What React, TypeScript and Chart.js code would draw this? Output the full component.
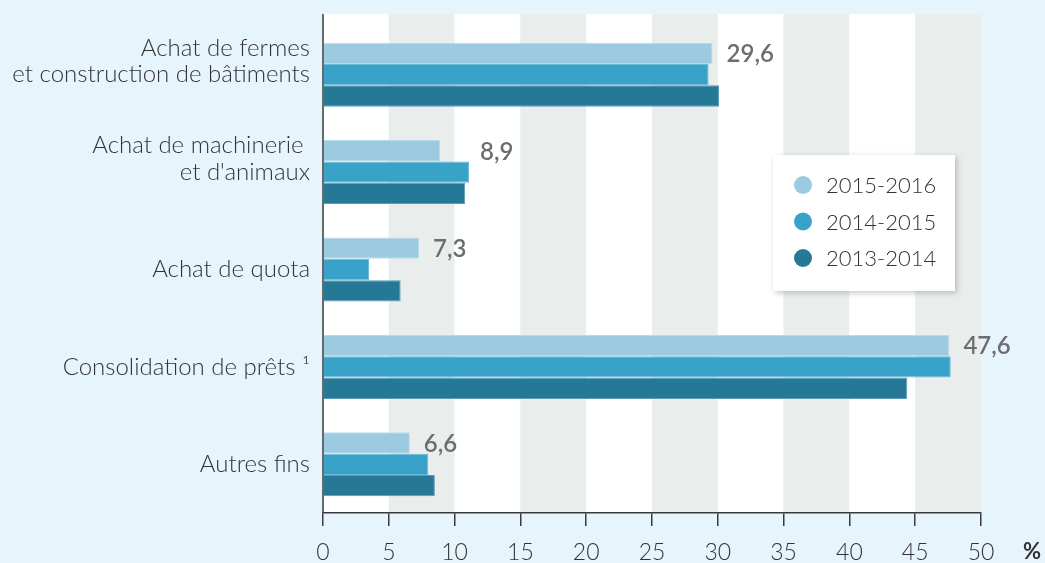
import React, { useEffect, useRef } from "react";
import { Chart, registerables } from "chart.js";

Chart.register(...registerables);

const categories: (string | string[])[] = [
  ["Achat de fermes", "et construction de bâtiments", ""],
  ["Achat de machinerie ", "et d'animaux", ""],
  "Achat de quota",
  "Consolidation de prêts ¹",
  "Autres fins",
];
const seriesLabels = ["2015-2016", "2014-2015", "2013-2014"];
const values2015_2016 = [29.6, 8.9, 7.3, 47.6, 6.6];
const values2014_2015 = [29.3, 11.1, 3.5, 47.7, 8.0];
const values2013_2014 = [30.1, 10.8, 5.9, 44.4, 8.5];
const xMin = 0;
const xMax = 50;
const xStep = 5;
const unitLabel = "%";

const fillColors = ["#9ccae1", "#38a2c8", "#257996"];
const edgeColors = ["#b8dbeb", "#6cbad7", "#5b9bb3"];
const FONT = 'Lato, "Open Sans", "DejaVu Sans", sans-serif';
const BG = "#e6f5fc";
const BAND = "#e9eeed";
const AXIS = "#3a3a3a";
const TEXT = "#333333";
const LABEL = "#6b6d71";

const fmt = (v: number) => v.toFixed(1).replace(".", ",");

const decorPlugin = {
  id: "decor",
  beforeDraw(chart: any) {
    const { ctx, chartArea, scales } = chart;
    const x = scales.x;
    ctx.save();
    ctx.fillStyle = BG;
    ctx.fillRect(0, 0, chart.width, chart.height);
    const top = chartArea.top - 12;
    for (let v = xMin, i = 0; v < xMax; v += xStep, i++) {
      const x0 = x.getPixelForValue(v);
      const x1 = x.getPixelForValue(v + xStep);
      ctx.fillStyle = i % 2 === 0 ? "#ffffff" : BAND;
      ctx.fillRect(x0, top, x1 - x0, chartArea.bottom - top);
    }
    ctx.restore();
  },
  afterDatasetsDraw(chart: any) {
    const { ctx, chartArea, scales } = chart;
    const x = scales.x;
    ctx.save();
    // left axis line
    ctx.strokeStyle = AXIS;
    ctx.lineWidth = 1.5;
    ctx.beginPath();
    ctx.moveTo(chartArea.left, chartArea.top - 12);
    ctx.lineTo(chartArea.left, chartArea.bottom);
    ctx.stroke();

    // value labels on first series
    const meta0 = chart.getDatasetMeta(0);
    const ds0 = chart.data.datasets[0].data as number[];
    const ds1 = chart.data.datasets[1].data as number[];
    ctx.font = `600 24px ${FONT}`;
    ctx.fillStyle = LABEL;
    ctx.textAlign = "left";
    ctx.textBaseline = "middle";
    meta0.data.forEach((bar: any, i: number) => {
      let lx = x.getPixelForValue(ds0[i]) + 14;
      if (ds1[i] - ds0[i] > 2) lx = x.getPixelForValue(ds1[i]) + 11;
      ctx.fillText(fmt(ds0[i]), lx, bar.y + 1);
    });

    // legend box
    const bx = 773, by = 155, bw = 182, bh = 136;
    ctx.save();
    ctx.shadowColor = "rgba(0,0,0,0.22)";
    ctx.shadowBlur = 6;
    ctx.shadowOffsetX = 2;
    ctx.shadowOffsetY = 2;
    ctx.fillStyle = "#ffffff";
    ctx.fillRect(bx, by, bw, bh);
    ctx.restore();
    ctx.font = `300 22px ${FONT}`;
    ctx.textBaseline = "middle";
    ctx.textAlign = "left";
    chart.data.datasets.forEach((ds: any, i: number) => {
      const cy = by + 30 + i * 36.5;
      ctx.fillStyle = ds.backgroundColor;
      ctx.beginPath();
      ctx.arc(bx + 30, cy, 9, 0, Math.PI * 2);
      ctx.fill();
      ctx.fillStyle = TEXT;
      ctx.fillText(ds.label, bx + 53, cy + 1);
    });

    // unit label
    ctx.font = `bold 22px ${FONT}`;
    ctx.fillStyle = TEXT;
    ctx.textAlign = "left";
    ctx.textBaseline = "middle";
    ctx.fillText(unitLabel, chartArea.right + 42, 552);
    ctx.restore();
  },
};

export default function App() {
  const ref = useRef<HTMLCanvasElement>(null);
  useEffect(() => {
    if (!ref.current) return;
    const series = [values2015_2016, values2014_2015, values2013_2014];
    const chart = new Chart(ref.current, {
      type: "bar",
      data: {
        labels: categories as any,
        datasets: series.map((d, i) => ({
          label: seriesLabels[i],
          data: d,
          backgroundColor: fillColors[i],
          borderColor: edgeColors[i],
          borderWidth: 1,
          borderSkipped: "start",
          barPercentage: 1,
          categoryPercentage: 0.657,
        })),
      },
      options: {
        indexAxis: "y",
        responsive: false,
        animation: false,
        devicePixelRatio: 1,
        layout: { padding: { top: 26, right: 64, left: 0, bottom: 0 } },
        plugins: { legend: { display: false }, tooltip: { enabled: false } },
        scales: {
          x: {
            type: "linear",
            min: xMin,
            max: xMax,
            ticks: {
              stepSize: xStep,
              color: TEXT,
              padding: 13,
              font: { family: FONT, size: 23, weight: "300" as any },
              maxRotation: 0,
            },
            grid: {
              drawOnChartArea: false,
              drawTicks: true,
              tickLength: 13,
              color: AXIS,
              lineWidth: 1.5,
            },
            border: { display: true, color: AXIS, width: 1.5 },
            afterFit: (s: any) => {
              s.height = 50;
            },
          },
          y: {
            type: "category",
            ticks: {
              color: TEXT,
              padding: 5,
              font: { family: FONT, size: 24, weight: "300" as any, lineHeight: 1.12 },
              autoSkip: false,
            },
            grid: { display: false },
            border: { display: false },
            afterFit: (s: any) => {
              s.width = 323;
            },
          },
        },
      },
      plugins: [decorPlugin],
    });
    return () => chart.destroy();
  }, []);
  return (
    <div style={{ position: "fixed", left: 0, top: 0, width: 1045, height: 563, background: BG }}>
      <canvas ref={ref} width={1045} height={563} style={{ display: "block" }} />
    </div>
  );
}
